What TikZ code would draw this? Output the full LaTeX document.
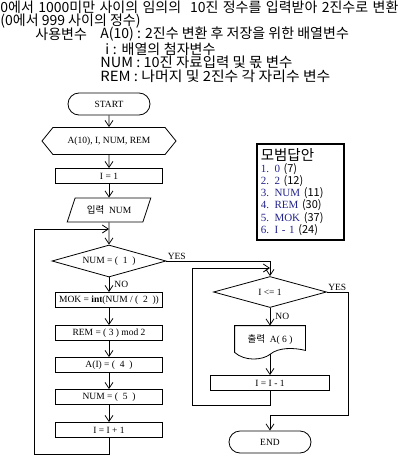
\documentclass[tikz,border=0pt]{standalone}
\usepackage{fontspec}
\usepackage{graphicx}
\usepackage{tikz}
\setmainfont{Liberation Serif}
\newfontfamily\kr[WordSpace=2.2]{Noto Sans CJK KR}
\newfontfamily\krans{Noto Sans CJK KR}
\usetikzlibrary{arrows.meta,shapes.geometric,shapes.symbols}
\definecolor{ansblue}{RGB}{35,35,140}

\begin{document}
\begin{tikzpicture}[x=1pt,y=-1pt,->,>={Straight Barb[length=6pt,width=8pt]},
  node distance=33pt,line width=0.8pt,
  base node/.style={draw,fill=white,font=\fontsize{9.5}{11}\selectfont,inner sep=1pt},
  term node/.style={base node,rectangle,rounded corners=11pt,minimum width=82pt,minimum height=22pt},
  hex node/.style={base node,signal,signal to=west and east,signal pointer angle=102,minimum width=134pt,minimum height=27pt},
  rec node/.style={base node,rectangle,minimum width=107pt,minimum height=15pt},
  io node/.style={base node,trapezium,trapezium left angle=63,trapezium right angle=117,trapezium stretches=true,minimum width=84pt,minimum height=24pt},
  dia node/.style={base node,diamond,aspect=3.5,minimum width=114pt,minimum height=32pt},
  doc node/.style={base node,draw=none,fill=none,rectangle,minimum width=70pt,minimum height=28pt},
  lab node/.style={font=\fontsize{9.5}{11}\selectfont,inner sep=1pt},
  txt node/.style={anchor=west,inner sep=0pt,font=\kr\fontsize{14}{15}\selectfont}]
  \useasboundingbox (0,0) rectangle (400,460);

  % header
  \node[txt node] (t1) at (0,7) {\makebox[398pt][s]{0에서 1000미만 사이의 임의의\ \ 10진 정수를 입력받아 2진수로 변환}};
  \node[txt node] (t2) at (0,21) {(0에서 999 사이의 정수)};
  \node[txt node] (v0) at (35,34) {사용변수};
  \node[txt node] (v1) at (100,34) {A(10) : 2진수 변환 후 저장을 위한 배열변수};
  \node[txt node] (v2) at (105,49) {\makebox[110pt][s]{i : 배열의 첨자변수}};
  \node[txt node] (v3) at (100,62) {\resizebox{192pt}{\height}{NUM : 10진 자료입력 및 몫 변수}};
  \node[txt node] (v4) at (100,76) {\resizebox{230pt}{\height}{REM : 나머지 및 2진수 각 자리수 변수}};

  % main flow
  \node[term node] (start) at (109,104) {START};
  \node[hex node] (dcl) [below of=start,yshift=-4pt] {A(10), I, NUM, REM};
  \node[rec node] (i1) [below of=dcl,yshift=-2pt] {I = 1};
  \node[io node] (in) [below of=i1,yshift=-1pt] {{\kr 입력}\ \ NUM};
  \node[dia node] (q1) [below of=in,yshift=-18pt] {NUM = (\ \ 1\ \ )};
  \node[rec node] (mok) [below of=q1,yshift=-6pt] {MOK = \textbf{int}(NUM / (\ \ 2\ \ ))};
  \node[rec node] (rem) [below of=mok] {REM = ( 3 ) mod 2};
  \node[rec node] (ai) [below of=rem,yshift=1pt] {A(I) = (\ \ 4\ \ )};
  \node[rec node] (num) [below of=ai,yshift=1pt] {NUM = (\ \ 5\ \ )};
  \node[rec node] (inc) [below of=num] {I = I + 1};

  % output loop
  \node[dia node,minimum width=113pt,minimum height=31pt] (q2) at (270,292) {I <= 1};
  \node[doc node] (out) [below of=q2,yshift=-15pt] {{\kr 출력}\ \ A(\ 6\ )};
  \node[rec node,minimum width=119pt] (dec) [below of=out,yshift=-10pt] {I = I - 1};
  \node[term node] (end) [below of=dec,yshift=-26pt] {END};
  \draw[-] (out.north west) -- ([yshift=2pt]out.south west)
    .. controls ([xshift=10pt,yshift=-7pt]out.south west) and ([xshift=-8pt,yshift=-6pt]out.south) .. (out.south)
    .. controls ([xshift=8pt,yshift=7pt]out.south) and ([xshift=-12pt,yshift=7pt]out.south east) .. ([yshift=4pt]out.south east)
    -- (out.north east) -- cycle;

  % answers
  \node[draw,line width=1.5pt,anchor=north west,inner xsep=4pt,text width=79pt,
    minimum height=96pt,align=left,font=\fontsize{11}{12.2}\selectfont] (ans) at (256,143)
    {{\krans\fontsize{14.5}{15}\selectfont 모범답안}\\
     \textcolor{ansblue}{1. 0} {\krans (7)}\\
     \textcolor{ansblue}{2. 2} {\krans (12)}\\
     \textcolor{ansblue}{3. NUM} {\krans (11)}\\
     \textcolor{ansblue}{4. REM} {\krans (30)}\\
     \textcolor{ansblue}{5. MOK} {\krans (37)}\\
     \textcolor{ansblue}{6. I - 1} {\krans (24)}};

  \coordinate (m1) at (109,229);
  \coordinate (lb) at (34,454);
  \coordinate (m2) at (270,268);
  \coordinate (rb) at (192,405);
  \coordinate (yb) at (348,415);

  \path
    (start) edge (dcl)
    (dcl) edge (i1)
    (i1) edge (in)
    (in) edge (q1)
    (q1) edge node[lab node,right,xshift=4pt] {NO} (mok)
    (mok) edge (rem)
    (rem) edge (ai)
    (ai) edge (num)
    (num) edge (inc)
    (q2) edge node[lab node,right,xshift=4pt] {NO} (out)
    (out) edge (dec);

  \draw (inc.south) |- (lb) |- (m1);
  \draw (dec.south) |- (rb) |- (m2);
  \draw (q1.east) node[lab node,above right] {YES} -| (q2.north);
  \draw (q2.east) node[lab node,above right] {YES} -| (yb) -| (end.north);

\end{tikzpicture}
\end{document}
